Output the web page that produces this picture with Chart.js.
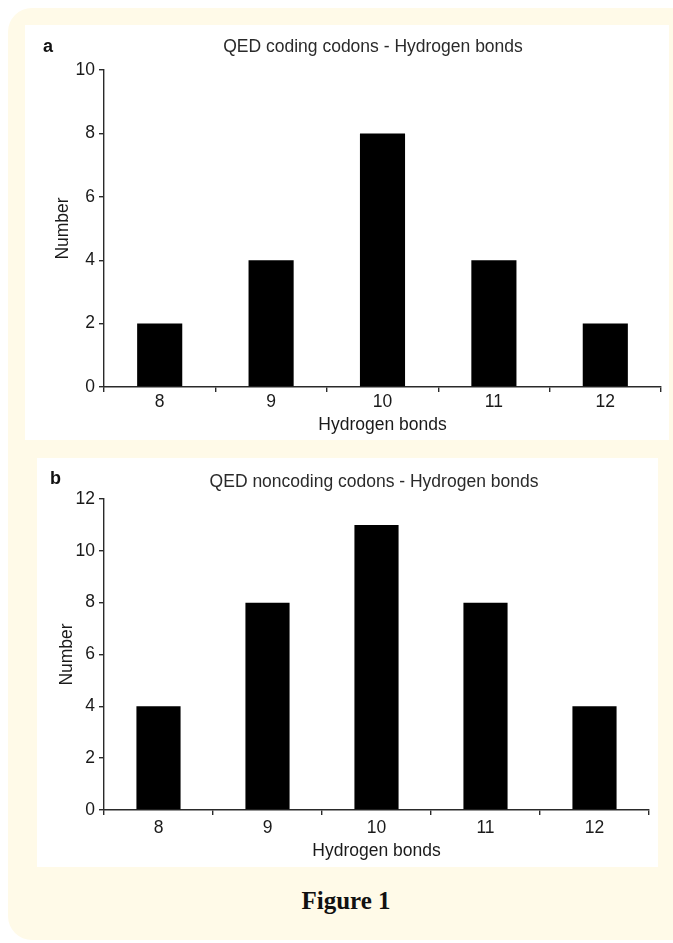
<!DOCTYPE html>
<html>
<head>
<meta charset="utf-8">
<script src="https://cdn.jsdelivr.net/npm/chart.js@4.4.1/dist/chart.umd.min.js"></script>
<style>
  html, body { margin: 0; padding: 0; background: #fff; }
  body { width: 673px; height: 943px; position: relative; overflow: hidden; }
  .frame {
    position: absolute; left: 8px; top: 8px; width: 690px; height: 932px;
    background: #fffae8; border-radius: 24px;
  }
  .panel { position: absolute; background: #fff; }
  #panelA { left: 25px; top: 25px; width: 644px; height: 415px; }
  #panelB { left: 37px; top: 458px; width: 621px; height: 409px; }
  .caption {
    position: absolute; left: 0; width: 692px; top: 887px; text-align: center;
    font: bold 25px "Liberation Serif", "Times New Roman", serif; color: #111;
  }
</style>
</head>
<body>
<div class="frame"></div>
<div class="panel" id="panelA"><canvas id="chartA" width="644" height="415"></canvas></div>
<div class="panel" id="panelB"><canvas id="chartB" width="621" height="409"></canvas></div>
<div class="caption">Figure 1</div>
<script>
const categories = ['8', '9', '10', '11', '12'];
const codingCounts = [2, 4, 8, 4, 2];
const noncodingCounts = [4, 8, 11, 8, 4];
const codingMax = 10;
const noncodingMax = 12;

const FONT = '"Liberation Sans", Arial, Helvetica, sans-serif';
const SIZE = 17.5;
const INK = '#1a1a1a';
const AXIS = '#2a2a2a';

// panel letter + chart title
const panelText = {
    id: 'panelText',
    afterDraw(chart, args, opts) {
        const { ctx } = chart;
        ctx.save();
        ctx.textBaseline = 'middle';
        ctx.textAlign = 'left';
        ctx.fillStyle = '#111';
        ctx.font = 'bold 18px ' + FONT;
        ctx.fillText(opts.letter, opts.letterX, opts.letterY);
        ctx.textAlign = 'center';
        ctx.fillStyle = '#2a2a2a';
        ctx.font = SIZE + 'px ' + FONT;
        ctx.fillText(opts.title, opts.titleX, opts.titleY);
        ctx.restore();
    }
};

function makeChart(id, counts, yMax, cfg) {
    return new Chart(document.getElementById(id), {
        type: 'bar',
        data: {
            labels: categories,
            datasets: [{
                data: counts,
                backgroundColor: '#000',
                borderWidth: 0,
                barPercentage: 0.405,
                categoryPercentage: 1,
            }],
        },
        options: {
            responsive: false,
            animation: false,
            layout: { padding: { left: 0, right: cfg.padRight, top: cfg.padTop, bottom: 0 } },
            plugins: {
                legend: { display: false },
                tooltip: { enabled: false },
                panelText: cfg.text,
            },
            scales: {
                x: {
                    afterFit: (scale) => { scale.height = cfg.xHeight; },
                    grid: { drawOnChartArea: false, drawTicks: true, tickLength: 5, color: AXIS, lineWidth: 1.4 },
                    border: { display: true, color: AXIS, width: 1.4 },
                    ticks: { color: INK, font: { family: FONT, size: SIZE }, padding: cfg.xTickPad, maxRotation: 0 },
                    title: {
                        display: true, text: 'Hydrogen bonds', color: INK,
                        font: { family: FONT, size: SIZE }, padding: { top: 0, bottom: cfg.xTitlePad },
                    },
                },
                y: {
                    min: 0,
                    max: yMax,
                    afterFit: (scale) => { scale.width = cfg.yWidth; },
                    grid: { drawOnChartArea: false, drawTicks: true, tickLength: 5, color: AXIS, lineWidth: 1.4 },
                    border: { display: true, color: AXIS, width: 1.4 },
                    ticks: { stepSize: 2, color: INK, font: { family: FONT, size: SIZE }, padding: 4 },
                    title: {
                        display: true, text: 'Number', color: INK,
                        font: { family: FONT, size: SIZE }, padding: { top: cfg.yTitlePad, bottom: 0 },
                    },
                },
            },
        },
        plugins: [panelText],
    });
}

makeChart('chartA', codingCounts, codingMax, {
    padRight: 8, padTop: 45, xHeight: 53, yWidth: 79,
    xTickPad: 0, xTitlePad: 4.5, yTitlePad: 27.5,
    text: { letter: 'a', letterX: 18, letterY: 22, title: 'QED coding codons - Hydrogen bonds', titleX: 348, titleY: 22 },
});

makeChart('chartB', noncodingCounts, noncodingMax, {
    padRight: 9, padTop: 41, xHeight: 57, yWidth: 67,
    xTickPad: 3, xTitlePad: 5.5, yTitlePad: 19.5,
    text: { letter: 'b', letterX: 13, letterY: 21, title: 'QED noncoding codons - Hydrogen bonds', titleX: 337, titleY: 24 },
});
</script>
</body>
</html>
